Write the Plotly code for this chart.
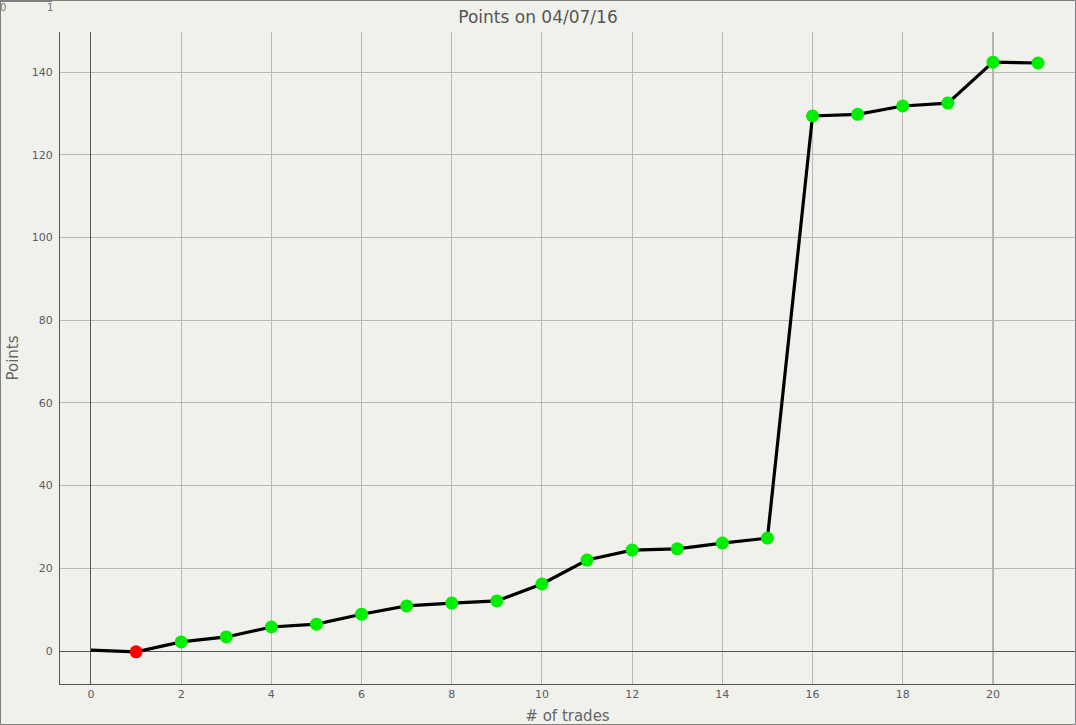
import plotly.graph_objects as go

trades = list(range(22))
points = [0.2, -0.2, 2.2, 3.4, 5.8, 6.5, 8.9, 10.9, 11.6, 12.1, 16.2, 22.0,
          24.4, 24.7, 26.1, 27.3, 129.4, 129.8, 131.8, 132.5, 142.4, 142.2]
marker_colors = ["rgba(0,0,0,0)", "#ff0000"] + ["#00ee00"] * 20

W, H = 1076, 725
ML, MR, MT, MB = 60, 1, 32, 41
PW, PH = W - ML - MR, H - MT - MB
BG = "#f1f1ec"
FONT = "DejaVu Sans"

fig = go.Figure()
fig.add_trace(go.Scatter(
    x=trades, y=points, mode="lines+markers",
    line=dict(color="black", width=3.2),
    marker=dict(size=13, color=marker_colors, line=dict(width=0)),
    showlegend=False,
))

fig.update_layout(
    width=W, height=H,
    margin=dict(l=ML, r=MR, t=MT, b=MB, autoexpand=False),
    paper_bgcolor=BG, plot_bgcolor=BG,
    font=dict(family=FONT, color="#5a5a6a", size=11),
    title=dict(text="Points on 04/07/16", x=0.5, xanchor="center",
               y=1 - 17 / H, yanchor="middle",
               font=dict(family=FONT, size=17, color="#555555")),
    xaxis=dict(range=[-0.687, 21.82], dtick=2, tick0=0,
               showgrid=True, gridcolor="#b8b8b8", gridwidth=1,
               zeroline=True, zerolinecolor="#555555", zerolinewidth=1,
               showline=True, linecolor="#555555", linewidth=1,
               ticks="", ticklabelstandoff=0,
               title=dict(text="# of trades", standoff=14,
                          font=dict(family=FONT, size=15, color="#666666"))),
    yaxis=dict(range=[-7.98, 149.7], dtick=20, tick0=0,
               showgrid=True, gridcolor="#b8b8b8", gridwidth=1,
               zeroline=True, zerolinecolor="#555555", zerolinewidth=1,
               showline=True, linecolor="#555555", linewidth=1,
               ticks="", ticklabelstandoff=4,
               title=dict(text="Points", standoff=9,
                          font=dict(family=FONT, size=15, color="#666666"))),
    shapes=[
        dict(type="line", xref="x", yref="paper", x0=20, x1=20, y0=0, y1=1,
             line=dict(color="#555555", width=1), layer="below"),
        dict(type="rect", xref="paper", yref="paper",
             x0=-(ML - 0.5) / PW, x1=1 + (MR - 0.5) / PW,
             y0=-(MB - 0.5) / PH, y1=1 + (MT - 0.5) / PH,
             line=dict(color="#808080", width=1)),
        dict(type="line", xref="paper", yref="paper",
             x0=-ML / PW, x1=-(ML - 52) / PW,
             y0=1 + (MT - 1) / PH, y1=1 + (MT - 1) / PH,
             line=dict(color="#808080", width=2)),
    ],
    annotations=[
        dict(text="0", xref="paper", yref="paper", x=-(ML + 2) / PW, y=1 + (MT - 8) / PH,
             xanchor="left", yanchor="middle", showarrow=False,
             font=dict(family=FONT, size=10, color="#777777")),
        dict(text="1", xref="paper", yref="paper", x=-(ML - 50) / PW, y=1 + (MT - 8) / PH,
             xanchor="center", yanchor="middle", showarrow=False,
             font=dict(family=FONT, size=10, color="#777777")),
    ],
)

fig.write_html("out.html", config={"displayModeBar": False},
               post_script="document.body.style.margin='0';document.body.style.overflow='hidden';")
